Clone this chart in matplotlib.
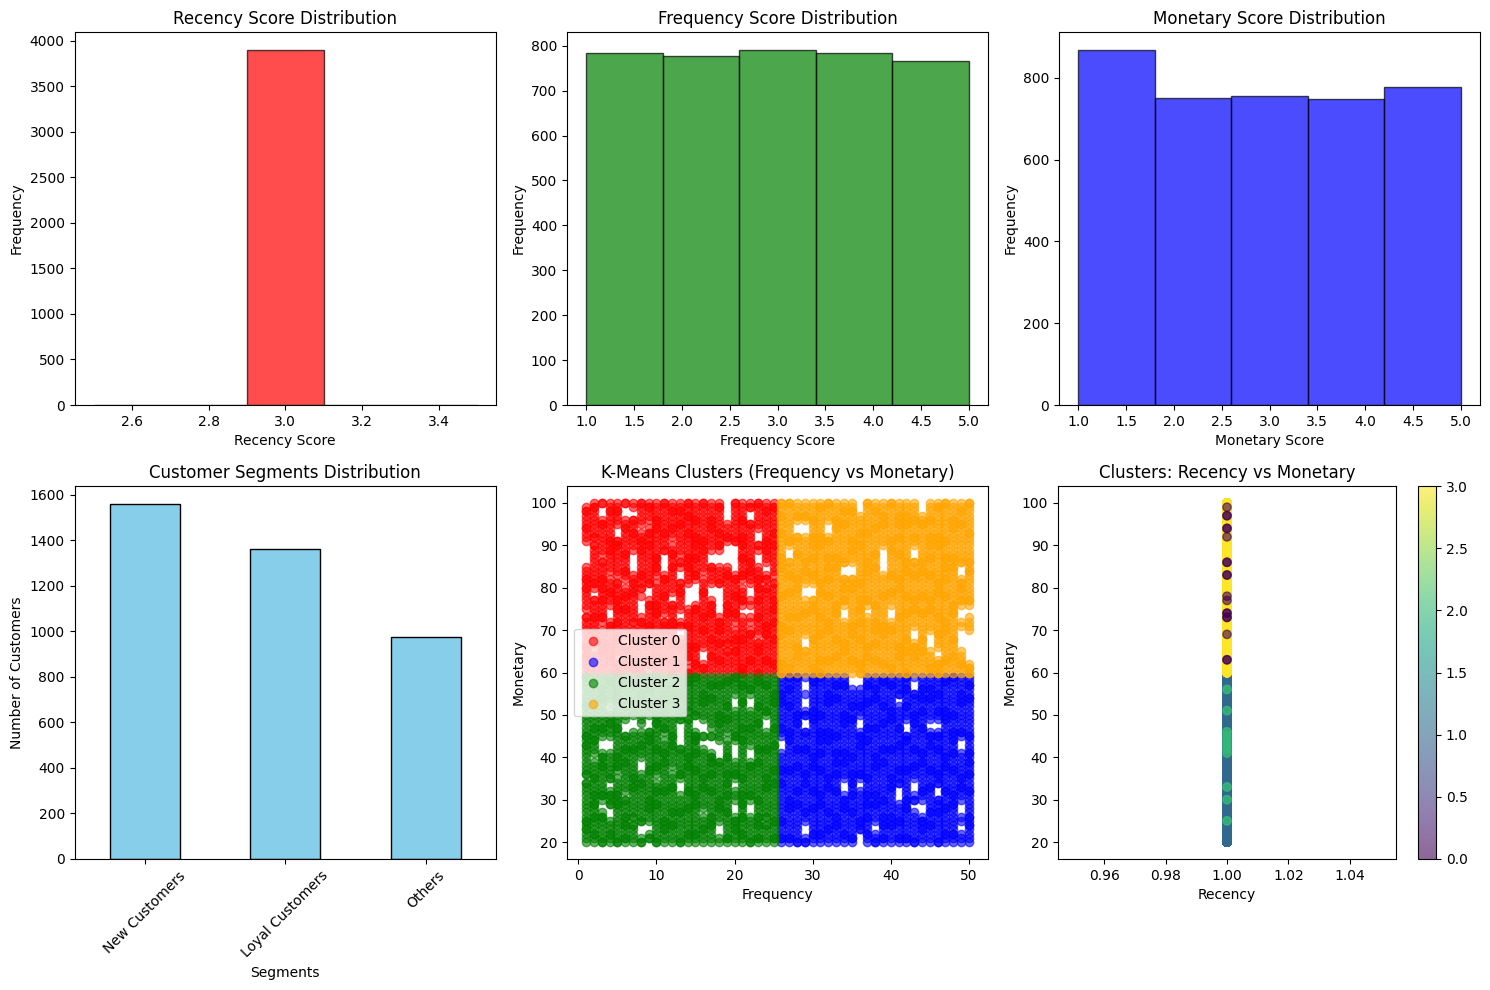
import numpy as np
import matplotlib
matplotlib.use("Agg")
import matplotlib.pyplot as plt

# Score histograms
SCORES = [1, 2, 3, 4, 5]
RECENCY_COUNT = 3900
FREQ_COUNTS = [784, 778, 791, 784, 766]
MON_COUNTS = [869, 750, 757, 748, 778]

# Segments
SEGMENTS = ["New Customers", "Loyal Customers", "Others"]
SEG_COUNTS = [1560, 1362, 975]

# Customer counts per grid cell.
# One string per Frequency value; digits run downward in Monetary.
CLUSTER0 = [  # Frequency 1-25, Monetary 100..60
"01211 12111 00000 11121 21111 10211 11112 12111 1",
"12111 11120 21111 11112 10021 11211 12110 11211 1",
"20001 21111 11102 11121 21121 11210 11121 21111 1",
"11211 11112 12111 11011 12111 00012 11112 12111 1",
"11211 10002 21111 11102 11121 21121 11211 11021 2",
"20001 12111 11211 12110 11211 21111 11102 11121 1",
"11002 11211 11000 00112 12111 11120 21111 11112 1",
"21111 10112 12111 11211 20100 00121 11211 11121 2",
"12111 01211 21111 11112 00012 11112 12111 11120 1",
"11112 12111 11121 21101 11112 12111 11211 12111 1",
"21111 11211 12000 00121 11211 11021 21111 11211 1",
"11211 12110 11211 21111 11002 11121 21121 11211 2",
"11211 21111 11102 10002 12111 10012 00112 11121 1",
"21121 11211 11121 21111 00000 11112 11112 12101 2",
"11112 11121 21121 11210 00001 21111 11112 11121 1",
"21111 11112 12111 11011 12111 11211 21111 00012 1",
"11112 12111 11000 21111 00012 12111 11211 12111 1",
"12111 11211 21000 11112 00000 00121 21121 11211 1",
"00000 11121 00000 11211 11112 12111 11120 21111 1",
"21111 11112 00000 00121 11211 12110 11211 21111 1",
"11112 11121 21121 11210 11121 00111 11211 11112 2",
"12000 21111 11112 12111 00011 00110 12111 11211 1",
"21111 11000 21000 11121 21121 11211 11021 21111 2",
"11211 11112 12111 00120 21111 11112 12111 11211 1",
"12111 11211 21111 11102 11121 21121 11211 11121 1",
]
CLUSTER2 = [  # Frequency 1-25, Monetary 59..20
"21111 11211 11112 12111 11120 21111 11112 12111",
"11211 12111 11211 21110 11112 11121 21121 11211",
"11121 21111 11211 00012 12111 11121 00121 11112",
"12111 11011 12111 00011 11112 00121 20001 11211",
"11121 21111 11211 11112 12101 11121 21111 11112",
"12111 11211 10002 11211 21111 11102 11121 21121",
"11211 11121 00011 11211 11112 12111 11120 21111",
"11112 12111 11011 12111 00011 21111 11112 00012",
"21121 11211 00021 21111 11211 11112 12111 00120",
"21111 11112 12111 11211 12110 11211 21111 11112",
"11121 21121 11210 11121 21111 11211 11112 12111",
"11121 21111 11112 12111 11011 12111 11211 21111",
"11112 11121 20000 00211 11121 00011 11211 11112",
"12111 11120 21111 11112 12111 11211 12111 11211",
"21111 11112 00012 21121 11211 11121 21111 11211",
"11112 12111 10002 00111 11112 12111 11011 12111",
"11211 21111 11102 00012 21121 11211 11121 21111",
"11211 11112 12111 10000 21111 11112 12111 00011",
"12111 11211 21110 11112 11121 21121 11211 11121",
"21111 00011 11112 10000 11121 00111 00012 12111",
"11211 12111 11211 21111 11112 11121 21121 11211",
"11121 00011 11211 11000 12111 11121 00011 11112",
"12111 11211 12111 11211 21111 11112 11121 21121",
"11211 11121 00011 11211 11112 12111 11120 21111",
"11112 12111 11211 12111 11211 21111 11112 11121",
]
CLUSTER3 = [  # Frequency 26-50, Monetary 100..60
"21121 11211 11121 21111 11211 11112 12111 11121 2",
"21111 11112 10002 11211 12111 11211 21111 11112 1",
"11121 00021 11211 11121 21111 11211 11112 12111 1",
"11121 00011 11112 12111 00011 12111 11000 21111 1",
"11112 11121 21121 11211 00021 21111 11211 11112 1",
"12111 11121 21111 11112 12111 11211 12111 11211 2",
"21111 00012 11121 21121 11211 11121 21111 11211 1",
"11112 12111 11121 21111 11112 12111 11211 12111 1",
"11211 21111 11112 00021 21121 00011 11121 21111 1",
"11211 11112 12111 00021 21111 11112 12111 11211 1",
"00011 11211 21111 11112 11121 21121 11211 11121 2",
"21111 11211 11112 12111 11121 00111 11112 12111 1",
"11211 12111 11211 21111 11112 11121 21121 11211 1",
"11121 21111 10000 00111 11211 11112 12111 11121 1",
"21111 11112 12111 11211 12111 00011 21111 11112 1",
"11121 21121 11211 11121 21111 11211 11112 12111 1",
"11121 21111 11112 12111 11211 12111 11211 21111 2",
"11112 11121 10002 11211 11121 21111 00012 12111 1",
"00011 21111 11112 12111 11211 12111 11211 21111 1",
"11112 11121 21121 11211 11121 21111 10000 11112 1",
"12111 11121 21111 11112 12111 11211 12111 00121 2",
"21111 11112 11121 21121 11211 11121 21111 11211 1",
"11112 12111 11121 21111 11112 12111 11211 12111 1",
"11211 21111 11112 00012 21121 00011 00000 11121 1",
"21111 11211 11112 12111 11121 00111 10000 00012 2",
]
CLUSTER1 = [  # Frequency 26-50, Monetary 59..20
"11112 12111 11211 00011 11211 21111 11112 11121",
"21121 11211 11121 21111 11211 11112 12111 11121",
"21111 11112 12111 11211 12111 11211 21111 11112",
"10001 00012 00021 11211 11121 21111 11211 00012",
"12111 11121 21111 11112 12111 11211 12111 11211",
"21111 11112 11121 21121 11211 11121 21111 11211",
"11112 12111 11121 21111 11112 12111 11211 12111",
"11211 21111 11112 11121 21121 11211 11121 21111",
"11211 11112 12111 11121 21111 00012 12111 11211",
"00011 11211 21111 11112 11121 21121 11211 11121",
"00011 11211 00012 12111 11121 00111 11112 12000",
"11211 12111 11211 21111 11112 11121 21121 11211",
"11121 21111 11211 11112 12111 11121 21111 00112",
"12111 11211 12111 11211 21111 11112 11121 21121",
"11211 11121 21111 11211 11112 12111 11121 21111",
"11112 00111 11211 12111 11211 20000 11112 11121",
"21121 11211 10002 21111 11211 11112 12111 11121",
"10002 11112 12111 11211 12111 00012 00111 11112",
"11121 21121 11211 11121 21111 11211 00012 12111",
"11121 21111 10012 12111 11211 12111 11211 21111",
"11112 11121 10012 11211 11121 20002 11211 11112",
"12111 11121 21111 11112 12111 11211 12111 11211",
"21111 11112 11121 21121 11211 11121 21111 11211",
"11112 12111 11121 00011 11112 12111 00011 00111",
"11211 21111 11112 11121 21121 11211 11121 21111",
]
# Monetary rows in the Recency panel, by which colour shows on top there
PURPLE_ROWS = [97, 94, 86, 83, 74, 73, 63]
BROWN_ROWS = [99, 92, 78, 77, 69]
GREEN_ROWS = [56, 51, 46, 45, 44, 43, 42, 41, 33, 30, 25]
CLUSTER_COLORS = ["red", "blue", "green", "orange"]
RECENCY_VALUE = 1


def expand(columns, first_freq, top_mon):
    fs, ms = [], []
    for i, col in enumerate(columns):
        for j, ch in enumerate(col.replace(" ", "")):
            fs += [first_freq + i] * int(ch)
            ms += [top_mon - j] * int(ch)
    return np.array(fs), np.array(ms)


clusters = [expand(CLUSTER0, 1, 100), expand(CLUSTER1, 26, 59),
            expand(CLUSTER2, 1, 59), expand(CLUSTER3, 26, 100)]

W, H = 1490, 990


def axes_px(l, t, r, b):
    return fig.add_axes([l / W, 1 - b / H, (r - l) / W, (b - t) / H])


fig = plt.figure(figsize=(W / 100, H / 100), dpi=100)
ax1 = axes_px(74.5, 32, 496, 405)
ax2 = axes_px(567, 32, 988, 405)
ax3 = axes_px(1059, 32, 1480, 405)
ax4 = axes_px(74.5, 486, 496, 859)
ax5 = axes_px(567, 486, 988, 859)
ax6 = axes_px(1058, 486, 1396, 859)
cax = axes_px(1418, 486, 1436, 859)

ax1.hist([3], bins=5, weights=[RECENCY_COUNT], color="red", alpha=0.7, edgecolor="black")
ax1.set_title("Recency Score Distribution")
ax1.set_xlabel("Recency Score")
ax1.set_ylabel("Frequency")

ax2.hist(SCORES, bins=5, weights=FREQ_COUNTS, color="green", alpha=0.7, edgecolor="black")
ax2.set_title("Frequency Score Distribution")
ax2.set_xlabel("Frequency Score")
ax2.set_ylabel("Frequency")

ax3.hist(SCORES, bins=5, weights=MON_COUNTS, color="blue", alpha=0.7, edgecolor="black")
ax3.set_title("Monetary Score Distribution")
ax3.set_xlabel("Monetary Score")
ax3.set_ylabel("Frequency")

ax4.bar(SEGMENTS, SEG_COUNTS, width=0.5, color="skyblue", edgecolor="black")
ax4.set_xlim(-0.5, 2.5)
ax4.set_title("Customer Segments Distribution")
ax4.set_xlabel("Segments")
ax4.set_ylabel("Number of Customers")
ax4.tick_params(axis="x", labelrotation=45)

for k, (fs, ms) in enumerate(clusters):
    ax5.scatter(fs, ms, c=CLUSTER_COLORS[k], alpha=0.6, label=f"Cluster {k}")
ax5.set_title("K-Means Clusters (Frequency vs Monetary)")
ax5.set_xlabel("Frequency")
ax5.set_ylabel("Monetary")
ax5.legend(loc="center left")

mon = np.concatenate([c[1] for c in clusters])
lab = np.concatenate([np.full(len(c[1]), k) for k, c in enumerate(clusters)])
rank = (lab % 2 == 1).astype(int)


def raise_points(rows, cluster, count):
    for row in rows:
        rank[np.where((mon == row) & (lab == cluster))[0][:count]] = 2


raise_points(PURPLE_ROWS, 0, 2)
raise_points(BROWN_ROWS, 0, 1)
raise_points(GREEN_ROWS, 2, 2)
order = np.argsort(rank, kind="stable")
sc = ax6.scatter(np.full(len(mon), RECENCY_VALUE), mon[order], c=lab[order], cmap="viridis", alpha=0.6)
ax6.set_title("Clusters: Recency vs Monetary")
ax6.set_xlabel("Recency")
ax6.set_ylabel("Monetary")
fig.colorbar(sc, cax=cax)

fig.savefig("out.png", dpi=100)
